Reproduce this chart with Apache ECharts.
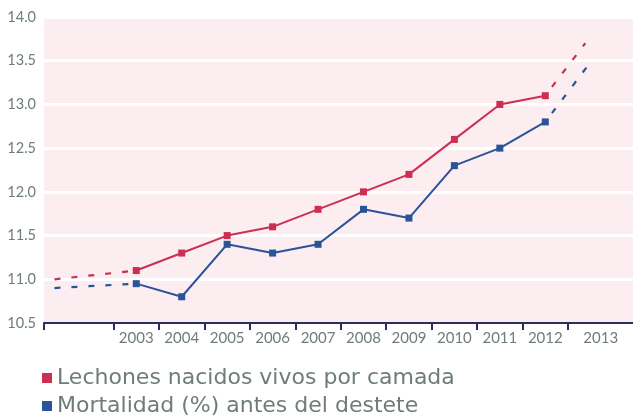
<!DOCTYPE html>
<html><head><meta charset="utf-8">
<script src="https://cdn.jsdelivr.net/npm/echarts@6/dist/echarts.min.js"></script>
<style>html,body{margin:0;padding:0;background:#fff}#c{width:633px;height:419px}</style>
</head><body><div id="c"></div>
<script>
const years = [2003,2004,2005,2006,2007,2008,2009,2010,2011,2012];
const lechones = [11.1,11.3,11.5,11.6,11.8,12.0,12.2,12.6,13.0,13.1];
const mortalidad = [10.95,10.8,11.4,11.3,11.4,11.8,11.7,12.3,12.5,12.8];
const lechonesStart = [[2001.2,11.0],[2003,11.1]];
const lechonesEnd = [[2012,13.1],[2012.88,13.7]];
const mortalidadStart = [[2001.2,10.9],[2003,10.95]];
const mortalidadEnd = [[2012,12.8],[2013.02,13.5]];
const tickYears = [2000.97,2002.5,2003.5,2004.5,2005.5,2006.5,2007.5,2008.5,2009.5,2010.5,2011.5,2012.5];
const labelYears = [2003,2004,2005,2006,2007,2008,2009,2010,2011,2012,2013.22];
const names = ['Lechones nacidos vivos por camada','Mortalidad (%) antes del destete'];
const RED = '#cc2f52', BLUE = '#2a5399', GRAY = '#6f7c7c';
const font = 'Lato, "Open Sans", sans-serif';
const legFont = '"DejaVu Sans", sans-serif';
const chart = echarts.init(document.getElementById('c'));
const pair = (xs, ys) => xs.map((x,i)=>[x,ys[i]]);
const leg = (name, top) => ({orient:'horizontal',left:42,top:top,padding:0,itemWidth:10,itemHeight:10,icon:'rect',
    data:[name],textStyle:{fontSize:22,lineHeight:24,color:GRAY,fontFamily:legFont}});
const dash = [6,11];
chart.setOption({
  animation:false,
  textStyle:{fontFamily:font},
  grid:{left:44,right:0,top:17,bottom:96,show:true,backgroundColor:'#fbedf0',borderWidth:0},
  legend:[leg(names[0],366),leg(names[1],394)],
  xAxis:{type:'value',min:2000.97,max:2013.93,
    axisLine:{show:true,lineStyle:{color:'#2b2e5c',width:2}},
    axisTick:{show:true,customValues:tickYears,length:7,lineStyle:{color:'#2b2e5c',width:2}},
    axisLabel:{customValues:labelYears,formatter:v=>String(Math.round(v)),color:GRAY,fontSize:15,margin:8},
    splitLine:{show:false}},
  yAxis:{type:'value',min:10.5,max:14,interval:0.5,
    axisLine:{show:false},axisTick:{show:false},
    axisLabel:{formatter:v=>v.toFixed(1),color:GRAY,fontSize:14.5,margin:8},
    splitLine:{lineStyle:{color:'#ffffff',width:3}}},
  series:[
    {name:names[0],type:'line',data:pair(years,lechones),symbol:'rect',symbolSize:7,
     lineStyle:{color:RED,width:2},itemStyle:{color:RED},z:3},
    {name:names[1],type:'line',data:pair(years,mortalidad),symbol:'rect',symbolSize:7,
     lineStyle:{color:BLUE,width:2},itemStyle:{color:BLUE},z:3},
    {name:names[0],type:'line',data:lechonesStart,symbol:'none',lineStyle:{color:RED,width:2.2,type:dash},itemStyle:{color:RED}},
    {name:names[0],type:'line',data:lechonesEnd,symbol:'none',lineStyle:{color:RED,width:2.2,type:dash,dashOffset:-11},itemStyle:{color:RED}},
    {name:names[1],type:'line',data:mortalidadStart,symbol:'none',lineStyle:{color:BLUE,width:2.2,type:dash},itemStyle:{color:BLUE}},
    {name:names[1],type:'line',data:mortalidadEnd,symbol:'none',lineStyle:{color:BLUE,width:2.2,type:dash,dashOffset:-11},itemStyle:{color:BLUE}}
  ]
});
</script></body></html>
